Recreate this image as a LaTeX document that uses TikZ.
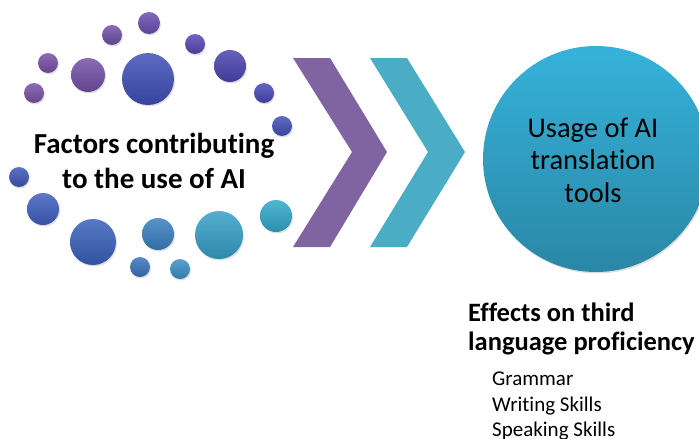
\documentclass[tikz,border=0pt]{standalone}
\usepackage{fontspec}
\setmainfont{Carlito}[Ligatures={NoCommon}]
\usetikzlibrary{shadows}

\definecolor{chevpurple}{HTML}{8064A2}
\definecolor{chevteal}{HTML}{4BACC6}
\definecolor{usagetop}{HTML}{36B2DA}
\definecolor{usagebot}{HTML}{2A87A6}

\tikzset{
  softshadow/.style={drop shadow={opacity=0.25,shadow xshift=1pt,shadow yshift=-1.5pt}},
  bigtext/.style={font=\fontsize{28.5}{32.5}\selectfont,align=center}
}

\begin{document}
\begin{tikzpicture}[x=1pt,y=-1pt]
\useasboundingbox (0,0) rectangle (699,439);
\clip (0,0) rectangle (699,439);
% ring of dots
\foreach \x/\y/\r/\c in {149/23/11/6A4FB0, 112/35/10/7050A8, 195/44/10/5A48B5,
  48/63/10/7A50A8, 88/75/17/7550A8, 148/79/26/4050B8, 230/66/16/4A45B0,
  34/93/10/7A52A5, 264/93/10/4A48B8, 282/126/10/4550B8, 19/177/10/4058B8,
  43/209/16/4060C0, 93/242/23/3A62BB, 158/234/16/3A80C0, 140/267/10/3A75C0,
  180/269/10/3A90C8, 219/235/24/35A0C8, 276/216/16/30A8C8}
{
  \definecolor{dotc}{HTML}{\c}
  \shade[top color=dotc!85!white,bottom color=dotc!85!black,softshadow] (\x,\y) circle (\r);
}
\node[font=\bfseries\fontsize{29}{35}\selectfont,align=center] (factors) at (154,161)
  {Factors contributing\\to the use of AI};
% chevrons
\fill[chevpurple] (293,58) -- (330,58) -- (387,152) -- (330,247) -- (293,247) -- (352,152) -- cycle;
\fill[chevteal] (370,58) -- (407,58) -- (465,152) -- (407,247) -- (370,247) -- (428,152) -- cycle;
% usage circle
\node[circle,minimum size=226pt,inner sep=0pt,top color=usagetop,bottom color=usagebot,softshadow]
  (usage) at (596,159) {};
\node[bigtext] (usagetext) at (593,160) {Usage of AI\\translation\\tools};
% effects
\node[anchor=north west,inner sep=0pt,align=left,font=\bfseries\fontsize{26.5}{29}\selectfont]
  (effects) at (468,303) {Effects on third\\language proficiency};
\node[anchor=north west,inner sep=0pt,align=left,font=\fontsize{21}{25.5}\selectfont]
  (skills) at (492,372) {Grammar\\Writing Skills\\Speaking Skills};
\end{tikzpicture}
\end{document}
